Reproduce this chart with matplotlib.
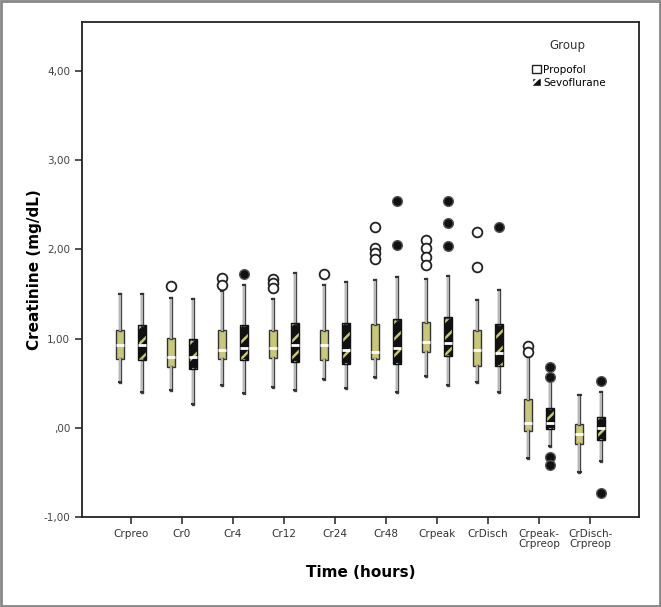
import matplotlib
matplotlib.use("Agg")
import matplotlib.pyplot as plt
import matplotlib.patheffects as pe
from matplotlib.patches import Patch, Rectangle
import numpy as np

# time points
labels = ["Crpreo", "Cr0", "Cr4", "Cr12", "Cr24", "Cr48", "Crpeak", "CrDisch",
          "Crpeak-\nCrpreop", "CrDisch-\nCrpreop"]

# Propofol box stats
prop_whislo = [0.52, 0.43, 0.48, 0.46, 0.55, 0.57, 0.58, 0.52, -0.34, -0.49]
prop_q1 = [0.77, 0.68, 0.77, 0.78, 0.76, 0.77, 0.85, 0.69, -0.03, -0.18]
prop_med = [0.93, 0.79, 0.87, 0.89, 0.93, 0.85, 0.96, 0.87, 0.06, -0.07]
prop_q3 = [1.10, 1.01, 1.10, 1.10, 1.10, 1.16, 1.19, 1.10, 0.32, 0.04]
prop_whishi = [1.50, 1.46, 1.53, 1.45, 1.60, 1.66, 1.67, 1.43, 0.80, 0.37]
prop_fliers = [[], [1.59], [1.68, 1.60], [1.67, 1.62, 1.57], [1.72],
               [2.25, 2.02, 1.96, 1.89], [2.11, 2.02, 1.92, 1.82],
               [2.20, 1.80], [0.92, 0.85], []]

# Sevoflurane box stats
sevo_whislo = [0.40, 0.27, 0.39, 0.43, 0.45, 0.40, 0.48, 0.40, -0.20, -0.37]
sevo_q1 = [0.76, 0.66, 0.76, 0.74, 0.72, 0.72, 0.81, 0.69, -0.01, -0.13]
sevo_med = [0.93, 0.80, 0.90, 0.93, 0.87, 0.89, 0.95, 0.84, 0.05, 0.00]
sevo_q3 = [1.15, 1.00, 1.15, 1.18, 1.18, 1.22, 1.24, 1.16, 0.22, 0.12]
sevo_whishi = [1.50, 1.44, 1.60, 1.74, 1.64, 1.69, 1.70, 1.55, 0.53, 0.40]
sevo_fliers = [[], [], [1.72], [], [], [2.54, 2.05], [2.54, 2.30, 2.04],
               [2.25], [0.68, 0.57, -0.33, -0.42], [0.53, -0.73]]

khaki = "#c9c77c"
plt.rcParams["hatch.linewidth"] = 1.8


def make_stats(lo, q1, med, q3, hi, fl):
    return [dict(whislo=a, q1=b, med=c, q3=d, whishi=e, fliers=f)
            for a, b, c, d, e, f in zip(lo, q1, med, q3, hi, fl)]


fig = plt.figure(figsize=(6.61, 6.07), dpi=100)
ax = fig.add_axes([0.124, 0.148, 0.843, 0.816])

x = np.arange(1, len(labels) + 1)
off = 0.215
wid = 0.16

whisk = dict(color="#cfcfcf", linewidth=1.2,
             path_effects=[pe.withStroke(linewidth=2.4, foreground="#444444")])
caps = dict(color="#333333", linewidth=1.5)
meds = dict(color="white", linewidth=2)

bp1 = ax.bxp(make_stats(prop_whislo, prop_q1, prop_med, prop_q3, prop_whishi, prop_fliers),
             positions=x - off, widths=wid, capwidths=0.05, patch_artist=True,
             boxprops=dict(facecolor=khaki, edgecolor="#333333", linewidth=1),
             whiskerprops=whisk, capprops=caps, medianprops=meds,
             flierprops=dict(marker="o", markerfacecolor="white", markeredgecolor="#222222",
                             markersize=7, markeredgewidth=1.3))
bp2 = ax.bxp(make_stats(sevo_whislo, sevo_q1, sevo_med, sevo_q3, sevo_whishi, sevo_fliers),
             positions=x + off, widths=wid, capwidths=0.05, patch_artist=True,
             boxprops=dict(facecolor="#111111", edgecolor=khaki, linewidth=0, hatch="//"),
             whiskerprops=whisk, capprops=caps, medianprops=meds,
             flierprops=dict(marker="o", markerfacecolor="#111111", markeredgecolor="#555555",
                             markersize=7, markeredgewidth=1))
for b in bp2["boxes"]:
    b.set_zorder(2)
# outline on top of hatched boxes
for xi, a, b in zip(x + off, sevo_q1, sevo_q3):
    ax.add_patch(Rectangle((xi - wid / 2, a), wid, b - a, fill=False,
                           edgecolor="#111111", linewidth=1, zorder=2.5))
for m in bp2["medians"]:
    m.set_zorder(3)

ax.set_xlim(0.04, 10.96)
ax.set_ylim(-1.0, 4.55)
ax.set_xticks(x)
ax.set_xticklabels(labels, fontsize=7.5, color="#333333", linespacing=0.95)
yt = [-1, 0, 1, 2, 3, 4]
ax.set_yticks(yt)
ax.set_yticklabels(["-1,00", ",00", "1,00", "2,00", "3,00", "4,00"], fontsize=7.5, color="#444444")
ax.tick_params(axis="both", direction="out", length=5, width=1.2, color="#333333")
for s in ax.spines.values():
    s.set_linewidth(1.3)
    s.set_color("#222222")

ax.set_ylabel("Creatinine (mg/dL)", fontsize=11, fontweight="bold", labelpad=1)
ax.set_xlabel("Time (hours)", fontsize=11, fontweight="bold", labelpad=12)

handles = [Patch(facecolor="white", edgecolor="#222222", label="Propofol"),
           Patch(facecolor="#111111", edgecolor="white", hatch="//", label="Sevoflurane")]
ax.legend(handles=handles, loc="upper left", bbox_to_anchor=(0.79, 0.909),
          bbox_transform=fig.transFigure, frameon=False, fontsize=7.5,
          handlelength=0.9, handleheight=0.9, handletextpad=0.2, labelspacing=0.3)
fig.text(567 / 661, 1 - 45 / 607, "Group", fontsize=8.5, color="#333333", ha="center", va="center")

# grey frame around the whole picture
fig.patches.append(Rectangle((0.002, 0.002), 0.996, 0.996, transform=fig.transFigure,
                             fill=False, edgecolor="#888888", linewidth=2))

fig.savefig("out.png", dpi=100)
